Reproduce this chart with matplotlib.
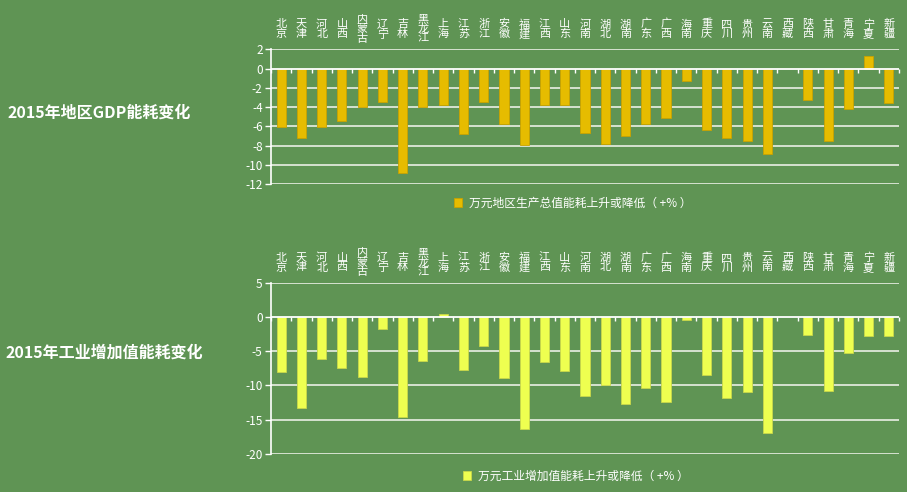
import numpy as np
import matplotlib
matplotlib.use('Agg')
import matplotlib.pyplot as plt

plt.rcParams['font.family'] = ['Noto Sans CJK SC', 'DejaVu Sans']

# === Data ===
provinces = ['北京', '天津', '河北', '山西', '内蒙古', '辽宁', '吉林', '黑龙江', '上海', '江苏',
             '浙江', '安徽', '福建', '江西', '山东', '河南', '湖北', '湖南', '广东', '广西',
             '海南', '重庆', '四川', '贵州', '云南', '西藏', '陕西', '甘肃', '青海', '宁夏', '新疆']

gdp_energy = [-6.1, -7.2, -6.1, -5.4, -4.0, -3.5, -10.8, -4.0, -3.8, -6.8,
              -3.5, -5.7, -7.9, -3.8, -3.8, -6.7, -7.8, -7.0, -5.7, -5.1,
              -1.3, -6.4, -7.2, -7.5, -8.9, np.nan, -3.3, -7.5, -4.2, 1.3, -3.6]

ind_energy = [-8.1, -13.3, -6.1, -7.4, -8.8, -1.8, -14.6, -6.4, 0.4, -7.8,
              -4.3, -8.9, -16.4, -6.6, -7.9, -11.6, -9.9, -12.7, -10.4, -12.4,
              -0.4, -8.4, -11.9, -10.9, -17.0, np.nan, -2.6, -10.8, -5.3, -2.8, -2.8]

gdp_title = '2015年地区GDP能耗变化'
ind_title = '2015年工业增加值能耗变化'
gdp_legend = '万元地区生产总值能耗上升或降低（ +% ）'
ind_legend = '万元工业增加值能耗上升或降低（ +% ）'

bg = '#5f9454'
grid_c = '#dfe8da'
W, H = 907, 492

fig = plt.figure(figsize=(W / 100, H / 100), dpi=100, facecolor=bg)


def px_axes(left, top, right, bottom):
    return fig.add_axes([left / W, 1 - bottom / H, (right - left) / W, (bottom - top) / H])


def draw_panel(ax, values, ylim, step, color, edge, label, leg_xy):
    x = np.arange(len(provinces))
    ax.set_facecolor(bg)
    bars = ax.bar(x, values, width=0.45, color=color, edgecolor=edge, linewidth=0.6,
                  label=label, zorder=3)
    ax.set_xlim(-0.5, len(provinces) - 0.5)
    ax.set_ylim(*ylim)
    yt = np.arange(ylim[0], ylim[1] + step, step)
    ax.set_yticks(yt)
    ax.set_yticklabels([str(int(v)) for v in yt])
    for v in yt:
        if v != 0:
            ax.axhline(v, color=grid_c, lw=1.3, zorder=1)
    ax.axhline(0, color='white', lw=1.3, zorder=4)

    for s in ['top', 'right']:
        ax.spines[s].set_visible(False)
    ax.spines['left'].set_color('white')
    ax.spines['left'].set_linewidth(1.2)
    ax.spines['bottom'].set_position(('data', 0))
    ax.spines['bottom'].set_visible(False)
    ax.set_xticks(np.arange(len(provinces) + 1) - 0.5)
    ax.set_xticklabels([])
    ax.tick_params(axis='x', colors='white', length=3, width=1, direction='out')
    ax.tick_params(axis='y', colors='white', length=4, width=1, labelsize=8.5, pad=2)

    # province labels on top, one character per line
    for i, name in enumerate(provinces):
        ax.annotate('\n'.join(name), xy=(i, 1), xycoords=('data', 'axes fraction'),
                    xytext=(0, 14.5), textcoords='offset points', ha='center', va='center',
                    fontsize=8, color='white', linespacing=0.95)

    ax.legend(handles=[bars], loc='center', bbox_to_anchor=leg_xy,
              bbox_transform=fig.transFigure, frameon=False, fontsize=8.5,
              labelcolor='white', handlelength=0.7, handleheight=0.7, handletextpad=0.6)


ax1 = px_axes(271, 49.3, 899, 184.3)
draw_panel(ax1, gdp_energy, (-12, 2), 2, '#e6bc00', '#c9a300', gdp_legend,
           (573 / W, 1 - 203 / H))

ax2 = px_axes(271, 282.7, 899, 454)
draw_panel(ax2, ind_energy, (-20, 5), 5, '#eeff50', '#c9d84a', ind_legend,
           (576 / W, 1 - 476 / H))

fig.text(7 / W, 1 - 113 / H, gdp_title, color='white', fontsize=11.5, fontweight='bold',
         ha='left', va='center')
fig.text(5 / W, 1 - 353 / H, ind_title, color='white', fontsize=11.5, fontweight='bold',
         ha='left', va='center')

fig.savefig('out.png', dpi=100, facecolor=bg)
